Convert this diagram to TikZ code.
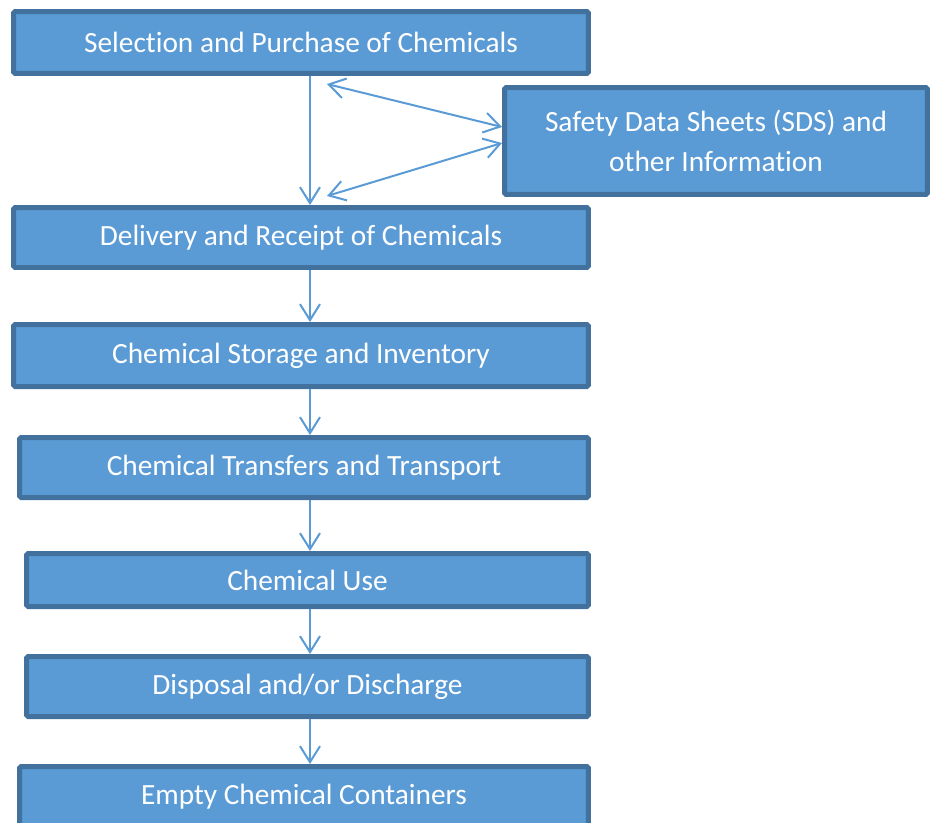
\documentclass[tikz,border=0pt]{standalone}
\usepackage{fontspec}
\setmainfont{Carlito}[Ligatures=NoCommon]
\usepackage{tikz}
\usetikzlibrary{arrows.meta}
\definecolor{boxfill}{HTML}{5B9BD5}
\definecolor{boxline}{HTML}{41719C}
\definecolor{arrowblue}{HTML}{5B9BD5}
\begin{document}
\begin{tikzpicture}[x=0.02cm, y=-0.02cm,
        stage/.style={draw=boxline, fill=boxfill, line width=0.1cm, rounded corners=0.03cm,
            text=white, font=\fontsize{16.7}{22.7}\selectfont, align=center, inner sep=0pt},
        flow/.style={draw=arrowblue, line width=0.04cm, -{Straight Barb[length=0.32cm, width=0.4cm]}},
        both/.style={flow, {Straight Barb[length=0.32cm, width=0.4cm]}-{Straight Barb[length=0.32cm, width=0.4cm]}}]
        \clip (0,0) rectangle (930,822);
        \coordinate (axis) at (310,0);
        \node[stage, minimum width=11.5cm, minimum height=1.24cm] (sel) at (301,42.5) {Selection and Purchase of Chemicals};
        \node[stage, minimum width=8.46cm, minimum height=2.14cm] (sds) at (716,141) {Safety Data Sheets (SDS) and\\other Information};
        \node[stage, minimum width=11.5cm, minimum height=1.2cm] (del) at (301,237.5) {Delivery and Receipt of Chemicals};
        \node[stage, minimum width=11.5cm, minimum height=1.24cm] (sto) at (301,355.5) {Chemical Storage and Inventory};
        \node[stage, minimum width=11.38cm, minimum height=1.2cm] (tra) at (304,467.5) {Chemical Transfers and Transport};
        \node[stage, minimum width=11.24cm, minimum height=1.06cm] (use) at (307.5,580) {Chemical Use};
        \node[stage, minimum width=11.24cm, minimum height=1.2cm] (dis) at (307.5,686.5) {Disposal and/or Discharge};
        \node[stage, minimum width=11.38cm, minimum height=1.2cm] (emp) at (304,796.5) {Empty Chemical Containers};
        \draw[flow] (sel.south -| axis) -- (del.north -| axis);
        \draw[flow] (del.south -| axis) -- (sto.north -| axis);
        \draw[flow] (sto.south -| axis) -- (tra.north -| axis);
        \draw[flow] (tra.south -| axis) -- (use.north -| axis);
        \draw[flow] (use.south -| axis) -- (dis.north -| axis);
        \draw[flow] (dis.south -| axis) -- (emp.north -| axis);
        \draw[both] ([xshift=0.52cm, yshift=-0.16cm]sel.south) -- ([yshift=0.28cm]sds.west);
        \draw[both] ([yshift=-0.04cm]sds.west) -- ([xshift=0.52cm, yshift=0.18cm]del.north);
\end{tikzpicture}
\end{document}
